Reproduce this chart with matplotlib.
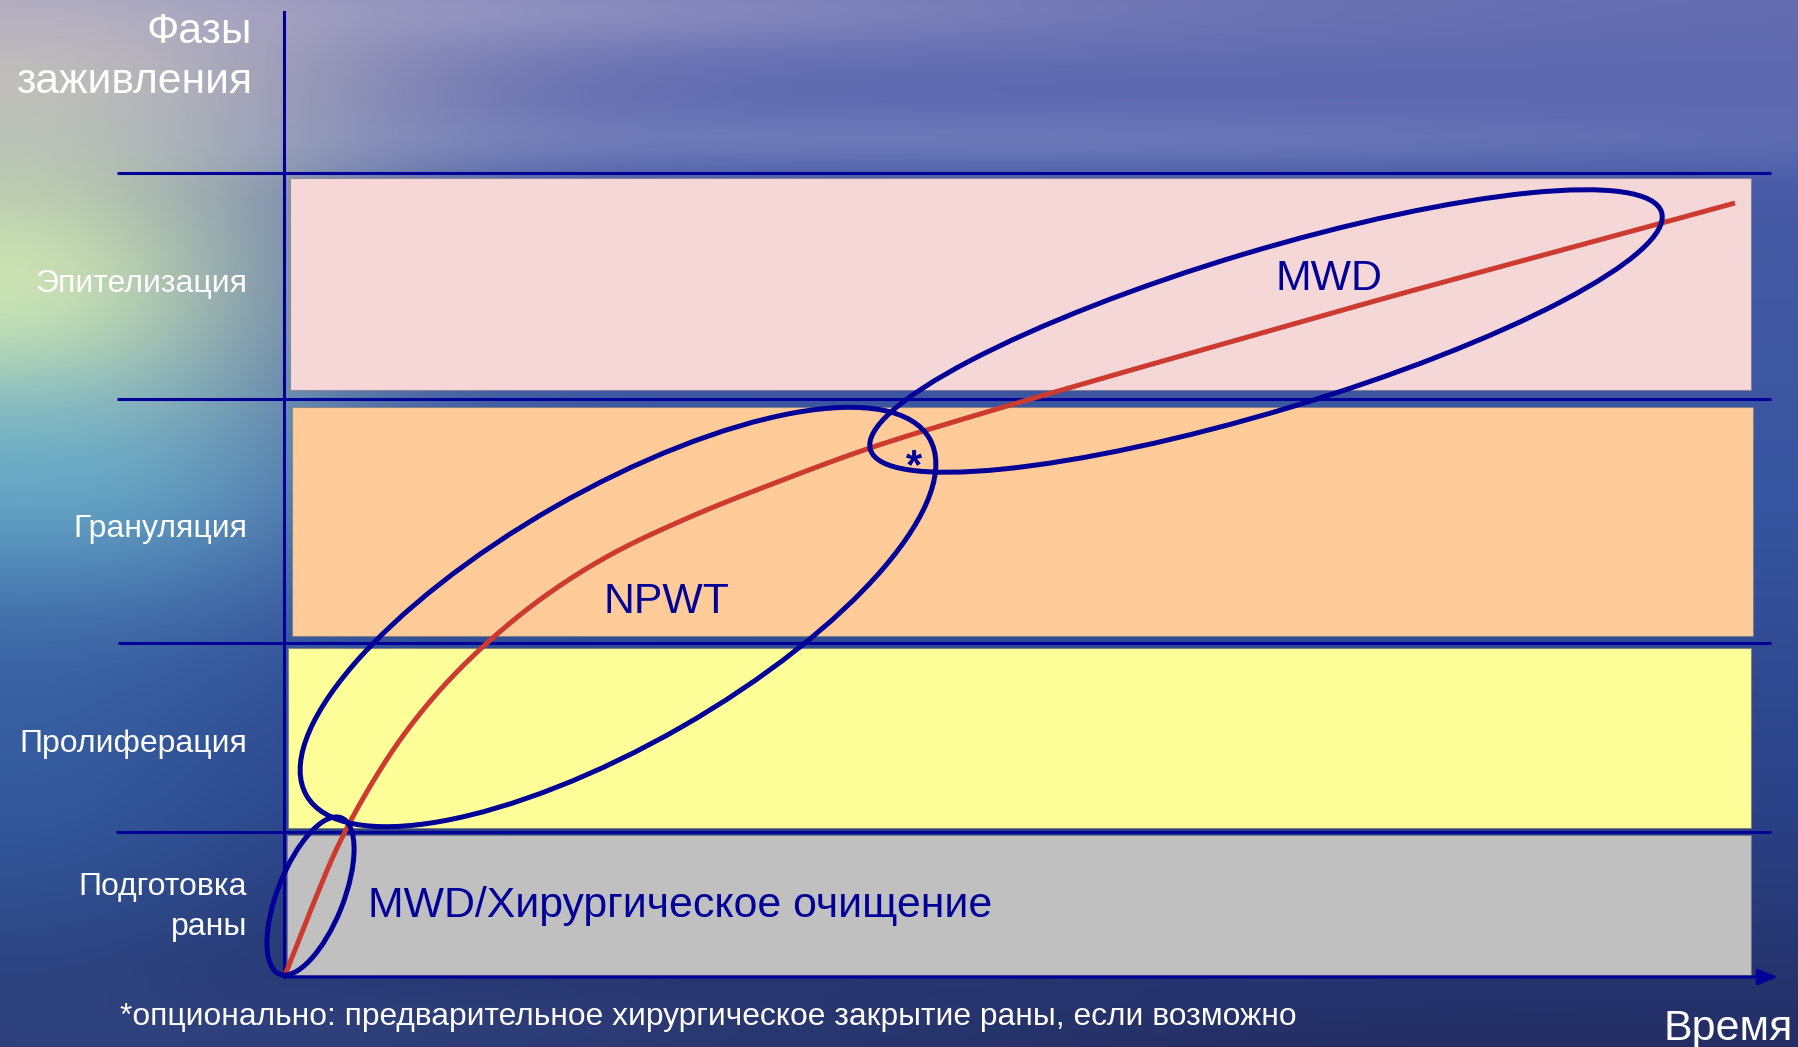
import numpy as np
import matplotlib
matplotlib.use("Agg")
import matplotlib.pyplot as plt
from matplotlib.patches import Ellipse

plt.rcParams['font.family'] = ['Liberation Sans', 'DejaVu Sans']

W, H = 1799, 1047

# ---------------- data (canvas units, y grows downward) ----------------
phase_names = ["Эпителизация", "Грануляция", "Пролиферация", "Подготовка раны"]
band_top = [178, 407, 648, 835]
band_bottom = [390, 636, 828, 975]
band_left = [290, 292, 288, 287]
band_right = [1751, 1753, 1751, 1751]
band_colors = ["#F5D7D8", "#FFCC99", "#FFFF99", "#C0C0C0"]

divider_y = [173, 399, 643, 832]
divider_x0 = [117, 117, 118, 116]
divider_x1 = 1771

label_lines = ["Эпителизация", "Грануляция", "Пролиферация", "Подготовка", "раны"]
label_base = [292, 537, 752, 895, 935]

title_lines = ["Фазы", "заживления"]
title_base = [43, 93]

# healing trajectory (time, phase level)
curve_t = [285, 310, 337, 365, 400, 440, 487, 545, 610, 690, 780, 870, 980,
           1093, 1230, 1400, 1570, 1735]
curve_y = [975, 912, 848, 795, 740, 690, 643, 596, 555, 517, 481, 448, 414,
           381, 342, 294, 248, 203]

# therapy regions (ellipses)
therapy_names = ["MWD/Хирургическое очищение", "NPWT", "MWD"]
therapy_cx = [310.5, 618, 1266]
therapy_cy = [896, 617, 331]
therapy_a = [84, 359, 413]
therapy_b = [33, 127, 80]
therapy_angle = [-68.4, -29.8, -16.7]
therapy_label_x = [368, 666, 1329]
therapy_label_y = [917, 613, 290]
therapy_label_ha = ["left", "center", "center"]

footnote = "*опционально: предварительное хирургическое закрытие раны, если возможно"
x_label = "Время"

axis_origin = (284, 977)
axis_top = 12
axis_right = 1778

BLUE = "#000099"
RED = "#CC3A30"


def catmull_rom(xs, ys, n=24):
    p = np.column_stack([xs, ys]).astype(float)
    p = np.vstack([2 * p[0] - p[1], p, 2 * p[-1] - p[-2]])
    out = []
    for i in range(1, len(p) - 2):
        p0, p1, p2, p3 = p[i - 1], p[i], p[i + 1], p[i + 2]
        t0 = 0.0
        t1 = t0 + np.linalg.norm(p1 - p0) ** 0.5
        t2 = t1 + np.linalg.norm(p2 - p1) ** 0.5
        t3 = t2 + np.linalg.norm(p3 - p2) ** 0.5
        t = np.linspace(t1, t2, n)[:, None]
        a1 = (t1 - t) / (t1 - t0) * p0 + (t - t0) / (t1 - t0) * p1
        a2 = (t2 - t) / (t2 - t1) * p1 + (t - t1) / (t2 - t1) * p2
        a3 = (t3 - t) / (t3 - t2) * p2 + (t - t2) / (t3 - t2) * p3
        b1 = (t2 - t) / (t2 - t0) * a1 + (t - t0) / (t2 - t0) * a2
        b2 = (t3 - t) / (t3 - t1) * a2 + (t - t1) / (t3 - t1) * a3
        c = (t2 - t) / (t2 - t1) * b1 + (t - t1) / (t2 - t1) * b2
        out.append(c if i == 1 else c[1:])
    c = np.vstack(out)
    return c[:, 0], c[:, 1]


# ---------------- background ----------------
yy, xx = np.mgrid[0:H, 0:W].astype(float)
stops_y = [0, 110, 200, 500, 800, 1047]
stops_c = np.array([(100, 108, 176), (92, 104, 176), (70, 90, 166),
                    (55, 85, 160), (42, 66, 136), (36, 46, 100)], float)
bg = np.zeros((H, W, 3))
for k in range(3):
    bg[..., k] = np.interp(yy, stops_y, stops_c[:, k])


def blend(img, cx, cy, sx, sy, col, s):
    g = s * np.exp(-(((xx - cx) / sx) ** 2 + ((yy - cy) / sy) ** 2))
    return img * (1 - g[..., None]) + np.array(col, float) * g[..., None]


bg = blend(bg, 0, 60, 420, 150, (198, 186, 192), 0.85)
bg = blend(bg, 500, 10, 650, 40, (175, 172, 205), 0.45)
bg = blend(bg, 900, 140, 900, 28, (150, 158, 205), 0.35)
bg = blend(bg, 0, 300, 300, 190, (226, 246, 178), 0.9)
bg = blend(bg, 20, 490, 270, 130, (115, 205, 222), 0.65)
bg = blend(bg, 0, 740, 280, 260, (60, 110, 175), 0.55)
bg = blend(bg, 300, 1040, 600, 60, (60, 85, 150), 0.4)
bg = np.clip(bg, 0, 255) / 255.0

fig = plt.figure(figsize=(W / 100, H / 100), dpi=100)
ax = fig.add_axes([0, 0, 1, 1])
ax.set_xlim(0, W)
ax.set_ylim(H, 0)
ax.axis("off")
ax.imshow(bg, extent=(0, W, H, 0), aspect="auto", zorder=0, interpolation="bilinear")

# bands
for top, bot, l, r, c in zip(band_top, band_bottom, band_left, band_right, band_colors):
    ax.barh((top + bot) / 2, r - l, height=bot - top, left=l, color=c,
            edgecolor=(0.45, 0.45, 0.5, 0.6), linewidth=0.8, zorder=1)

# dividers
for y, x0 in zip(divider_y, divider_x0):
    ax.plot([x0, divider_x1], [y, y], color=BLUE, lw=2.2, zorder=2, solid_capstyle="butt")

# axes lines
ax.plot([axis_origin[0], axis_origin[0]], [axis_top, axis_origin[1]], color=BLUE, lw=2.2, zorder=2)
ax.annotate("", xy=(axis_right, axis_origin[1]), xytext=axis_origin,
            arrowprops=dict(arrowstyle="-|>,head_length=1.0,head_width=0.4", color=BLUE,
                            lw=2.2, shrinkA=0, shrinkB=0, mutation_scale=12), zorder=2)

# trajectory
sx, sy = catmull_rom(curve_t, curve_y)
ax.plot(sx, sy, color=RED, lw=3.6, zorder=3, solid_capstyle="butt")

# ellipses
for cx, cy, a, b, ang in zip(therapy_cx, therapy_cy, therapy_a, therapy_b, therapy_angle):
    ax.add_patch(Ellipse((cx, cy), 2 * a, 2 * b, angle=ang, fill=False,
                         edgecolor=BLUE, lw=3.6, zorder=4))

for name, x, y, ha in zip(therapy_names, therapy_label_x, therapy_label_y, therapy_label_ha):
    ax.text(x, y, name, color=BLUE, fontsize=30.8, ha=ha, va="baseline", zorder=5)

ax.text(914, 478, "*", color=BLUE, fontsize=30, fontweight="bold", ha="center",
        va="baseline", zorder=5)

# labels
for t, y in zip(label_lines, label_base):
    ax.text(247, y, t, color="white", fontsize=23, ha="right", va="baseline", zorder=5)
for t, y in zip(title_lines, title_base):
    ax.text(252, y, t, color="white", fontsize=30.6, ha="right", va="baseline", zorder=5)

ax.text(120, 1025, footnote, color="white", fontsize=22.9, ha="left", va="baseline", zorder=5)
ax.text(1793, 1040, x_label, color="white", fontsize=31, ha="right", va="baseline", zorder=5)

fig.savefig("out.png", dpi=100)
